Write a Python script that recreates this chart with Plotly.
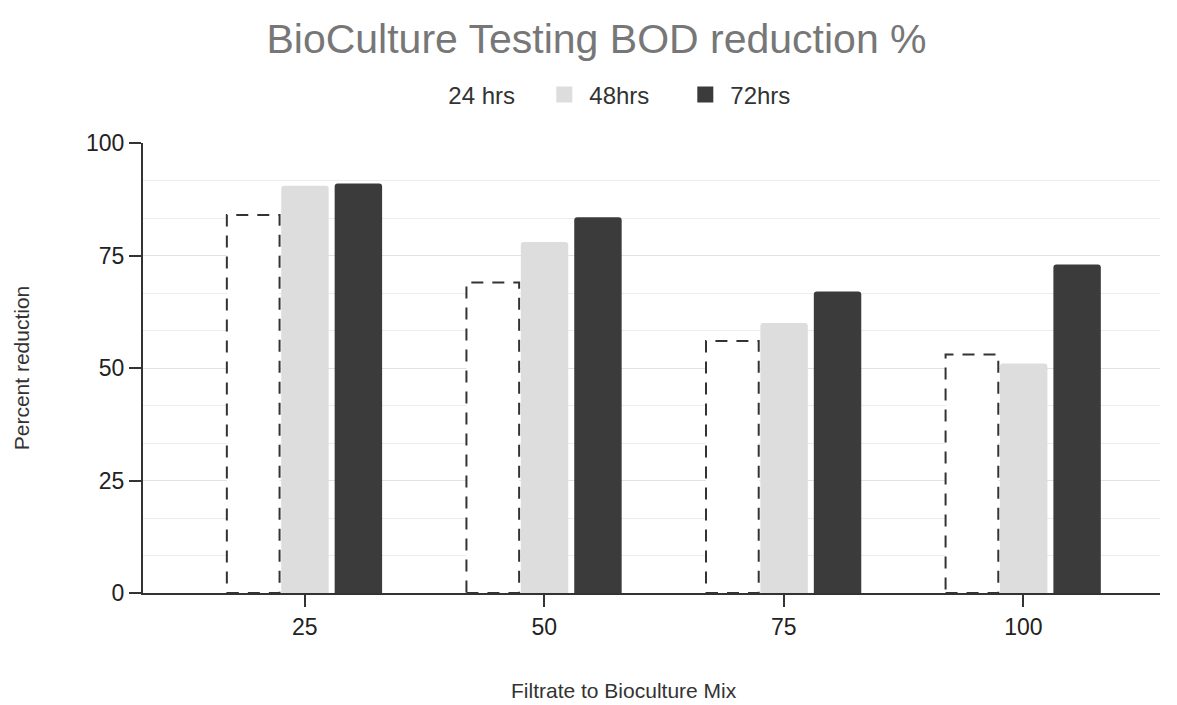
import plotly.graph_objects as go

categories = ["25", "50", "75", "100"]
series_names = ["24 hrs", "48hrs", "72hrs"]
hrs24 = [84, 69, 56, 53]
hrs48 = [90.5, 78, 60, 51]
hrs72 = [91, 83.5, 67, 73]
y_ticks = [0, 25, 50, 75, 100]

xpos = list(range(len(categories)))
colors = ["#ffffff", "#dddddd", "#3b3b3b"]
offsets = [-0.325, -0.098, 0.125]
widths = [0.22, 0.198, 0.198]
values = [hrs24, hrs48, hrs72]

fig = go.Figure()
for name, vals, col, off, w in zip(series_names, values, colors, offsets, widths):
    fig.add_trace(go.Bar(
        x=xpos, y=vals, name=name, marker=dict(color=col, line=dict(width=0)),
        offset=off, width=w, showlegend=False,
    ))
# legend entries with larger square swatches
for name, col in zip(series_names, colors):
    fig.add_trace(go.Scatter(
        x=[None], y=[None], mode="markers", name=name,
        marker=dict(symbol="square", size=20, color=col, line=dict(width=0)),
    ))

# dashed outlines for the 24 hrs bars, derived from the data
for xi, v in zip(xpos, hrs24):
    fig.add_shape(type="rect", xref="x", yref="y",
                  x0=xi + offsets[0], x1=xi + offsets[0] + widths[0], y0=0, y1=v,
                  line=dict(color="#333333", width=2, dash="12px,9px"),
                  fillcolor="rgba(0,0,0,0)", layer="above")

font_family = "Liberation Sans, Arial, sans-serif"
fig.update_layout(
    width=1177, height=705,
    margin=dict(l=133, r=25, t=135, b=120),
    paper_bgcolor="white", plot_bgcolor="white",
    barmode="overlay", barcornerradius=3,
    font=dict(family=font_family, color="#333333", size=22),
    title=dict(text="BioCulture Testing BOD reduction %", x=0.5, xanchor="center",
               y=0.957, yanchor="middle", yref="container",
               font=dict(size=41, color="#777777", family=font_family)),
    legend=dict(orientation="h", x=0.459, xanchor="center", y=1.107, yanchor="middle",
                font=dict(size=24, color="#333333"), itemwidth=40,
                entrywidth=86, traceorder="normal"),
    showlegend=True,
    annotations=[dict(text="Filtrate to Bioculture Mix", xref="paper", yref="paper",
                      x=0.473, y=-0.2156, xanchor="center", yanchor="middle",
                      showarrow=False, font=dict(size=21, color="#333333"))],
)
fig.update_xaxes(
    range=[-0.675, 3.57], tickvals=xpos, ticktext=categories,
    showline=True, linecolor="#333333", linewidth=2,
    ticks="outside", ticklen=12, tickwidth=2, tickcolor="#333333",
    showgrid=False, zeroline=False,
    tickfont=dict(size=23, color="#222222"),
)
fig.update_yaxes(
    range=[0, 100], tickvals=y_ticks,
    showline=True, linecolor="#333333", linewidth=2,
    ticks="outside", ticklen=12, tickwidth=2, tickcolor="#333333",
    showgrid=True, gridcolor="#e2e2e2", gridwidth=1, zeroline=False,
    minor=dict(dtick=25/3, tick0=0, showgrid=True, gridcolor="#ececec", gridwidth=1),
    tickfont=dict(size=23, color="#222222"),
    title=dict(text="Percent reduction", font=dict(size=21, color="#333333"), standoff=51),
)

fig.write_html("out.html")
